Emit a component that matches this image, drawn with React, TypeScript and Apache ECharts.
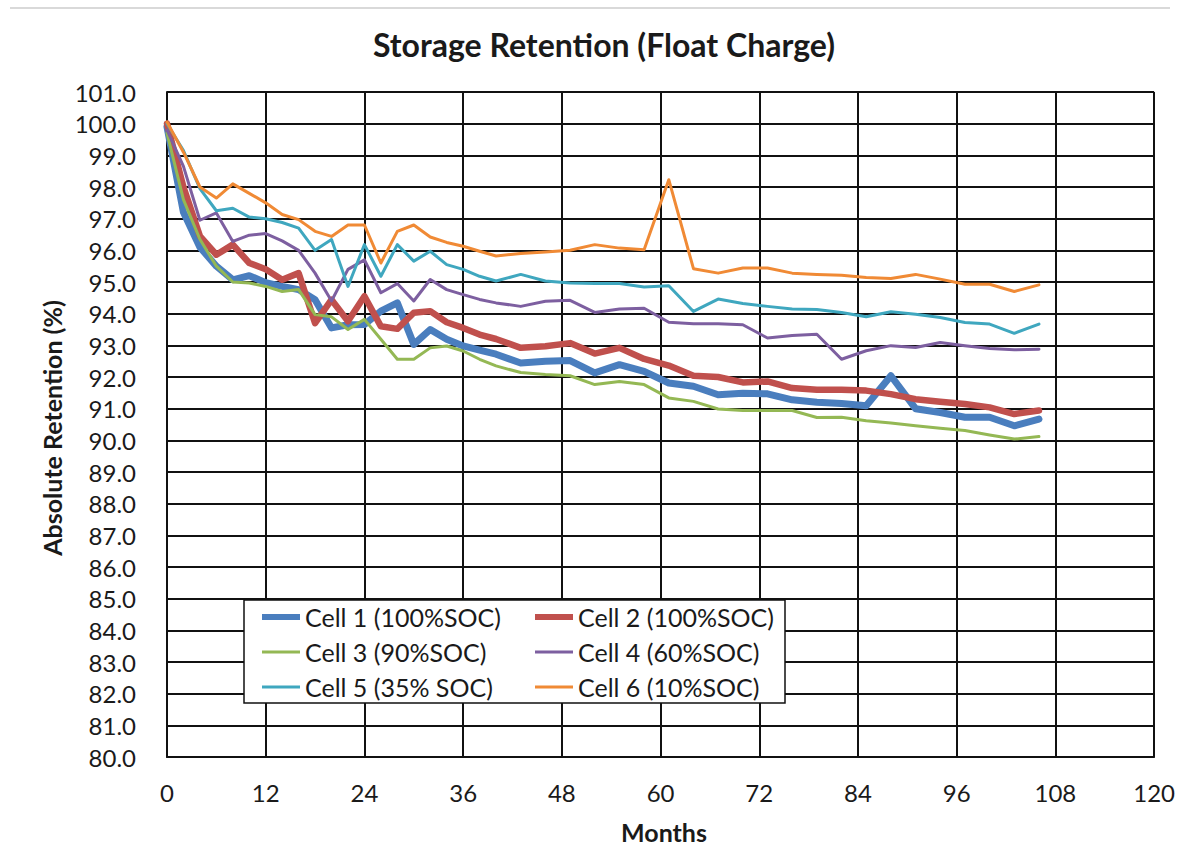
import React, { useEffect, useRef } from "react";
import * as echarts from "echarts";

const months = [0, 2, 4, 6, 8, 10, 12, 14, 16, 18, 20, 22, 24, 26, 28, 30, 32, 34, 36, 38, 40, 43, 46, 49, 52, 55, 58, 61, 64, 67, 70, 73, 76, 79, 82, 85, 88, 91, 94, 97, 100, 103, 106];

const cell1 = [99.9, 97.2, 96.1, 95.5, 95.07, 95.2, 94.98, 94.86, 94.76, 94.44, 93.55, 93.65, 93.66, 94.08, 94.34, 93.03, 93.5, 93.19, 92.98, 92.85, 92.72, 92.44, 92.5, 92.52, 92.13, 92.39, 92.18, 91.81, 91.71, 91.44, 91.49, 91.47, 91.28, 91.2, 91.16, 91.09, 92.04, 91.0, 90.88, 90.73, 90.73, 90.46, 90.67];
const cell2 = [100.0, 98.0, 96.45, 95.86, 96.18, 95.6, 95.4, 95.07, 95.28, 93.7, 94.44, 93.76, 94.55, 93.6, 93.52, 94.03, 94.08, 93.73, 93.55, 93.34, 93.2, 92.92, 92.97, 93.07, 92.74, 92.92, 92.57, 92.36, 92.04, 92.0, 91.83, 91.86, 91.65, 91.6, 91.6, 91.57, 91.46, 91.3, 91.22, 91.15, 91.04, 90.83, 90.94];
const cell3 = [99.7, 97.6, 96.35, 95.5, 95.0, 94.97, 94.86, 94.7, 94.76, 93.97, 93.9, 93.5, 93.82, 93.19, 92.56, 92.56, 92.92, 92.98, 92.82, 92.56, 92.35, 92.14, 92.08, 92.04, 91.76, 91.86, 91.76, 91.34, 91.23, 90.99, 90.94, 90.94, 90.94, 90.72, 90.73, 90.62, 90.55, 90.46, 90.38, 90.31, 90.17, 90.04, 90.12];
const cell4 = [99.8, 98.65, 96.95, 97.18, 96.28, 96.48, 96.53, 96.3, 96.0, 95.28, 94.4, 95.4, 95.7, 94.66, 94.95, 94.4, 95.08, 94.76, 94.6, 94.45, 94.34, 94.23, 94.39, 94.42, 94.04, 94.15, 94.17, 93.73, 93.68, 93.68, 93.65, 93.23, 93.31, 93.35, 92.56, 92.83, 92.99, 92.93, 93.09, 92.99, 92.9, 92.86, 92.88];
const cell5 = [100.0, 99.15, 97.95, 97.25, 97.33, 97.05, 97.0, 96.88, 96.7, 96.0, 96.34, 94.86, 96.18, 95.18, 96.18, 95.66, 95.97, 95.55, 95.4, 95.18, 95.03, 95.24, 95.03, 94.97, 94.95, 94.95, 94.84, 94.88, 94.07, 94.46, 94.32, 94.23, 94.15, 94.13, 94.04, 93.9, 94.06, 93.98, 93.88, 93.72, 93.67, 93.38, 93.67];
const cell6 = [100.05, 99.1, 98.0, 97.65, 98.1, 97.8, 97.5, 97.13, 96.97, 96.6, 96.44, 96.8, 96.8, 95.6, 96.6, 96.8, 96.42, 96.25, 96.13, 95.97, 95.82, 95.9, 95.95, 96.0, 96.18, 96.07, 96.02, 98.23, 95.42, 95.28, 95.44, 95.44, 95.28, 95.24, 95.21, 95.14, 95.11, 95.24, 95.09, 94.93, 94.93, 94.7, 94.91];

const seriesNames = [
  "Cell 1 (100%SOC)",
  "Cell 2 (100%SOC)",
  "Cell 3 (90%SOC)",
  "Cell 4 (60%SOC)",
  "Cell 5 (35% SOC)",
  "Cell 6 (10%SOC)",
];
const seriesValues = [cell1, cell2, cell3, cell4, cell5, cell6];
const seriesColors = ["#4a7ebe", "#c0504d", "#94b854", "#7d5fa0", "#3fa7bf", "#f08a35"];
const seriesWidths = [7, 6.5, 3, 3, 3, 3];

const title = "Storage Retention (Float Charge)";
const yAxisTitle = "Absolute Retention (%)";
const xAxisTitle = "Months";

const FONT = "Lato, 'Noto Sans', sans-serif";
const INK = "#1a1a1a";

export default function App() {
  const ref = useRef<HTMLDivElement>(null);
  useEffect(() => {
    const chart = echarts.init(ref.current!, null, { renderer: "svg" });
    const series = seriesNames.map((name, i) => ({
      name,
      type: "line",
      data: months.map((m, j) => [m, seriesValues[i][j]]),
      symbol: "none",
      showSymbol: false,
      lineStyle: { color: seriesColors[i], width: seriesWidths[i], join: "round", cap: "round" },
      itemStyle: { color: seriesColors[i] },
      emphasis: { disabled: true },
      z: 2 + i,
    }));
    const legendItem = (i: number) => {
      const h = seriesWidths[i] > 4 ? 6 : 3;
      return {
        name: seriesNames[i],
        icon: `path://M0,0h38v${h}h-38z`,
        itemStyle: { color: seriesColors[i] },
      };
    };
    const legendCommon = {
      orient: "vertical",
      top: 599,
      padding: 5,
      itemWidth: 38,
      itemHeight: 14,
      itemGap: 9,
      symbolKeepAspect: true,
      selectedMode: false,
      z: 10,
      textStyle: { fontFamily: FONT, fontSize: 25, color: INK, lineHeight: 26 },
    };
    chart.setOption({
      animation: false,
      backgroundColor: "#ffffff",
      grid: { left: 167, right: 21, top: 92, bottom: 108, containLabel: false },
      xAxis: {
        type: "value",
        min: 0,
        max: 120,
        interval: 12,
        axisLine: { show: true, lineStyle: { color: "#111", width: 2 } },
        axisTick: { show: false },
        splitLine: { show: true, lineStyle: { color: "#111", width: 2 } },
        axisLabel: { fontFamily: FONT, fontSize: 24, color: INK, margin: 23 },
      },
      yAxis: {
        type: "value",
        min: 80,
        max: 101,
        interval: 1,
        axisLine: { show: true, lineStyle: { color: "#111", width: 2 } },
        axisTick: { show: false },
        splitLine: { show: true, lineStyle: { color: "#111", width: 2 } },
        axisLabel: {
          fontFamily: FONT,
          fontSize: 24,
          color: INK,
          margin: 31,
          formatter: (v: number) => v.toFixed(1),
        },
      },
      legend: [
        { ...legendCommon, left: 257, data: [legendItem(0), legendItem(2), legendItem(4)] },
        { ...legendCommon, left: 530, data: [legendItem(1), legendItem(3), legendItem(5)] },
      ],
      graphic: [
        {
          type: "line",
          shape: { x1: 10, y1: 8, x2: 1170, y2: 8 },
          style: { stroke: "#d9d9d9", lineWidth: 2 },
          z: 1,
        },
        {
          type: "rect",
          shape: { x: 244, y: 600, width: 541, height: 103 },
          style: { fill: "#ffffff", stroke: "#111", lineWidth: 1.5 },
          z: 8,
        },
        {
          type: "text",
          x: 604,
          y: 44,
          style: {
            text: title,
            fontFamily: FONT,
            fontSize: 32,
            fontWeight: "bold",
            fill: INK,
            textAlign: "center",
            textVerticalAlign: "middle",
            align: "center",
            verticalAlign: "middle",
          },
          z: 10,
        },
        {
          type: "text",
          x: 52,
          y: 428,
          rotation: Math.PI / 2,
          style: {
            text: yAxisTitle,
            fontFamily: FONT,
            fontSize: 25,
            fontWeight: "bold",
            fill: INK,
            textAlign: "center",
            textVerticalAlign: "middle",
            align: "center",
            verticalAlign: "middle",
          },
          z: 10,
        },
        {
          type: "text",
          x: 664,
          y: 832,
          style: {
            text: xAxisTitle,
            fontFamily: FONT,
            fontSize: 25,
            fontWeight: "bold",
            fill: INK,
            textAlign: "center",
            textVerticalAlign: "middle",
            align: "center",
            verticalAlign: "middle",
          },
          z: 10,
        },
      ],
      series,
    });
    return () => chart.dispose();
  }, []);
  return (
    <div
      ref={ref}
      style={{ position: "fixed", left: 0, top: 0, width: 1178, height: 865 }}
    />
  );
}
